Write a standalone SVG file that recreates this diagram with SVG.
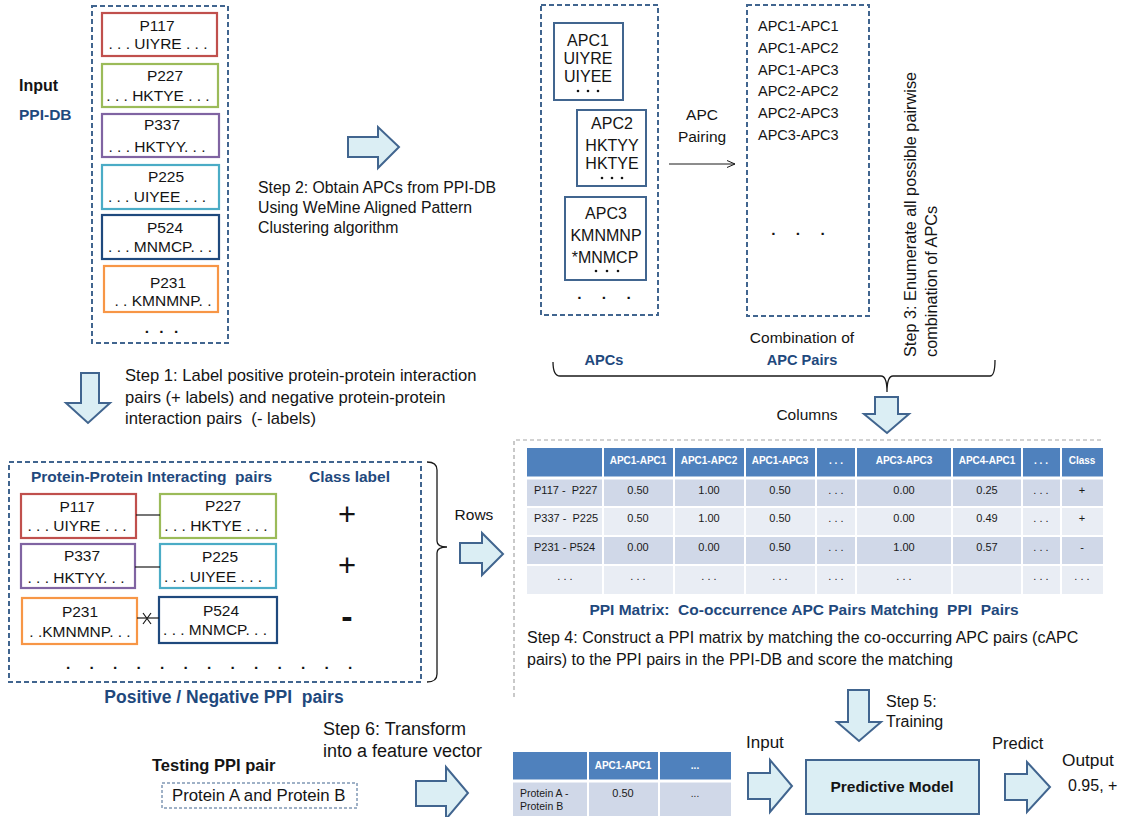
<svg xmlns="http://www.w3.org/2000/svg" width="1129" height="817" viewBox="0 0 1129 817">
  <style>
    text { font-family: "Liberation Sans", Arial, sans-serif; fill: #141414; white-space: pre; }
    .t { font-size: 15.5px; }
    .tb { font-size: 15.5px; font-weight: bold; }
    .blue { fill: #1f497d; font-weight: bold; }
    .mid { text-anchor: middle; }
    .dash { fill: none; stroke: #41658f; stroke-width: 2; stroke-dasharray: 5 3; }
    .gdash { fill: none; stroke: #a6a6a6; stroke-width: 1.2; stroke-dasharray: 4 3; }
    .apc { fill: #ffffff; stroke: #41658f; stroke-width: 2; }
    .blk { fill: #dbeef4; stroke: #41658f; stroke-width: 2; stroke-linejoin: miter; }
    .brace { fill: none; stroke: #1a1a1a; stroke-width: 1.3; }
    .pb { fill: #ffffff; stroke-width: 2.2; }
    .hd { font-size: 10px; font-weight: bold; fill: #ffffff; text-anchor: middle; }
    .cell { font-size: 11px; fill: #1a1a1a; text-anchor: middle; }
    .cl { font-size: 11px; fill: #1a1a1a; }
    .wl { stroke: #ffffff; stroke-width: 2; }
    .dot { fill: #141414; }
  </style>
  <defs>
    <marker id="open" markerWidth="10" markerHeight="10" refX="9" refY="5" orient="auto" markerUnits="userSpaceOnUse">
      <path d="M1,1.5 L9,5 L1,8.5" fill="none" stroke="#1a1a1a" stroke-width="1"/>
    </marker>
  </defs>
  <rect width="1129" height="817" fill="#ffffff"/>

  <!-- Input database -->
  <g id="input-label">
    <text class="tb" x="19" y="91" style="font-size:16px">Input</text>
    <text class="tb blue" x="19" y="120" style="font-size:15.5px">PPI-DB</text>
  </g>
  <g id="ppi-db">
    <rect class="dash" x="92" y="6" width="136" height="337"/>
    <rect class="pb" x="102" y="13" width="115" height="43" stroke="#c0504d"/>
    <text class="t mid" x="157" y="31">P117</text>
    <text class="t mid" x="158" y="49">. . . UIYRE . . .</text>
    <rect class="pb" x="102" y="64" width="116" height="43" stroke="#9bbb59"/>
    <text class="t mid" x="165" y="81">P227</text>
    <text class="t mid" x="158" y="101">. . . HKTYE . . .</text>
    <rect class="pb" x="102" y="114" width="117" height="43" stroke="#8064a2"/>
    <text class="t mid" x="162" y="130">P337</text>
    <text class="t mid" x="157" y="152">. . . HKTYY. . .</text>
    <rect class="pb" x="102" y="165" width="117" height="44" stroke="#4bacc6"/>
    <text class="t mid" x="166" y="182">P225</text>
    <text class="t mid" x="157" y="202">. . . UIYEE . . .</text>
    <rect class="pb" x="102" y="215" width="117" height="44" stroke="#1f497d"/>
    <text class="t mid" x="165" y="233">P524</text>
    <text class="t mid" x="160" y="252">. . . MNMCP. . .</text>
    <rect class="pb" x="104" y="266" width="114" height="46" stroke="#f79646"/>
    <text class="t mid" x="168" y="288">P231</text>
    <text class="t mid" x="163" y="306">. . KMNMNP. .</text>
    <text class="tb mid" x="163" y="333" letter-spacing="3">. . .</text>
  </g>

  <!-- Step 2 -->
  <g id="step2">
    <text class="t" x="258" y="193" style="font-size:15.8px">Step 2: Obtain APCs from PPI-DB</text>
    <text class="t" x="258" y="213" style="font-size:15.8px">Using WeMine Aligned Pattern</text>
    <text class="t" x="258" y="233" style="font-size:15.8px">Clustering algorithm</text>
  </g>

  <!-- Aligned pattern clusters -->
  <g id="apcs">
    <rect class="dash" x="541" y="5" width="117" height="310"/>
    <rect class="apc" x="554" y="23" width="69" height="77"/>
    <text class="t mid" x="588" y="46" style="font-size:16px">APC1</text>
    <text class="t mid" x="588" y="64" style="font-size:16px">UIYRE</text>
    <text class="t mid" x="588" y="82" style="font-size:16px">UIYEE</text>
    <circle class="dot" cx="578" cy="91" r="1.3"/><circle class="dot" cx="588" cy="91" r="1.3"/><circle class="dot" cx="598" cy="91" r="1.3"/>
    <rect class="apc" x="577" y="110" width="69" height="76"/>
    <text class="t mid" x="612" y="129" style="font-size:16px">APC2</text>
    <text class="t mid" x="612" y="151" style="font-size:16px">HKTYY</text>
    <text class="t mid" x="612" y="169" style="font-size:16px">HKTYE</text>
    <circle class="dot" cx="602" cy="178" r="1.3"/><circle class="dot" cx="612" cy="178" r="1.3"/><circle class="dot" cx="622" cy="178" r="1.3"/>
    <rect class="apc" x="565" y="197" width="81" height="83"/>
    <text class="t mid" x="606" y="219" style="font-size:16px">APC3</text>
    <text class="t mid" x="606" y="241" style="font-size:16px">KMNMNP</text>
    <text class="t mid" x="605" y="263" style="font-size:16px">*MNMCP</text>
    <circle class="dot" cx="596" cy="271" r="1.3"/><circle class="dot" cx="607" cy="271" r="1.3"/><circle class="dot" cx="618" cy="271" r="1.3"/>
    <text class="tb mid" x="608" y="299" letter-spacing="8">. . .</text>
    <text class="tb blue mid" x="604" y="365" style="font-size:14.6px">APCs</text>
  </g>

  <g id="apc-pairing">
    <text class="t mid" x="702" y="120">APC</text>
    <text class="t mid" x="702" y="142">Pairing</text>
  </g>

  <!-- Combination of APC pairs -->
  <g id="apc-pairs">
    <rect class="dash" x="747" y="5" width="122" height="311"/>
    <text class="t" x="758" y="31" style="font-size:14.5px">APC1-APC1</text>
    <text class="t" x="758" y="53" style="font-size:14.5px">APC1-APC2</text>
    <text class="t" x="758" y="75" style="font-size:14.5px">APC1-APC3</text>
    <text class="t" x="758" y="96" style="font-size:14.5px">APC2-APC2</text>
    <text class="t" x="758" y="118" style="font-size:14.5px">APC2-APC3</text>
    <text class="t" x="758" y="140" style="font-size:14.5px">APC3-APC3</text>
    <text class="tb mid" x="802" y="235" letter-spacing="8">. . .</text>
    <text class="t mid" x="802" y="343">Combination of</text>
    <text class="tb blue mid" x="802" y="365" style="font-size:14.6px">APC Pairs</text>
  </g>

  <g id="step3">
    <text class="t" style="font-size:16.3px" transform="translate(916,357) rotate(-90)">Step 3: Enumerate all possible pairwise</text>
    <text class="t" style="font-size:16.3px" transform="translate(937,357) rotate(-90)">combination of APCs</text>
  </g>

  <!-- Step 1 -->
  <g id="step1">
    <text class="t" x="125" y="381" style="font-size:16.6px">Step 1: Label positive protein-protein interaction</text>
    <text class="t" x="125" y="403" style="font-size:16.6px">pairs (+ labels) and negative protein-protein</text>
    <text class="t" x="125" y="424" style="font-size:16.6px">interaction pairs  (- labels)</text>
  </g>

  <!-- Positive / negative PPI pairs -->
  <g id="ppi-pairs">
    <rect class="dash" x="9" y="462" width="412" height="220"/>
    <text class="tb blue" x="31" y="482">Protein-Protein Interacting  pairs</text>
    <text class="tb blue" x="309" y="482">Class label</text>
    <rect class="pb" x="21" y="494" width="115" height="44" stroke="#c0504d"/>
    <text class="t mid" x="77" y="512">P117</text>
    <text class="t mid" x="77" y="531">. . . UIYRE . . .</text>
    <rect class="pb" x="160" y="494" width="116" height="44" stroke="#9bbb59"/>
    <text class="t mid" x="223" y="511">P227</text>
    <text class="t mid" x="216" y="531">. . . HKTYE . . .</text>
    <rect class="pb" x="21" y="544" width="114" height="44" stroke="#8064a2"/>
    <text class="t mid" x="82" y="561">P337</text>
    <text class="t mid" x="76" y="583">. . . HKTYY. . .</text>
    <rect class="pb" x="160" y="544" width="116" height="44" stroke="#4bacc6"/>
    <text class="t mid" x="220" y="562">P225</text>
    <text class="t mid" x="213" y="582">. . . UIYEE . . .</text>
    <rect class="pb" x="22" y="598" width="115" height="46" stroke="#f79646"/>
    <text class="t mid" x="80" y="617">P231</text>
    <text class="t mid" x="80" y="637">. .KMNMNP. . .</text>
    <rect class="pb" x="159" y="597" width="118" height="46" stroke="#1f497d"/>
    <text class="t mid" x="221" y="616">P524</text>
    <text class="t mid" x="215" y="635">. . . MNMCP. . .</text>
    <text class="t mid" x="347" y="525" style="font-size:31px">+</text>
    <text class="t mid" x="347" y="576" style="font-size:31px">+</text>
    <text class="tb mid" x="347" y="628" style="font-size:34px">-</text>
    <text class="tb" x="66" y="669" letter-spacing="19.2">.............</text>
    <text class="tb blue mid" x="224" y="703" style="font-size:17.5px">Positive / Negative PPI  pairs</text>
  </g>

  <g id="rows-label">
    <text class="t mid" x="474" y="520">Rows</text>
  </g>
  <g id="columns-label">
    <text class="t mid" x="807" y="420">Columns</text>
  </g>

  <!-- PPI matrix -->
  <g id="ppi-matrix">
    <path class="gdash" d="M514,697 V440 H1103"/>
    <rect x="527" y="448" width="576" height="29" fill="#4f81bd"/>
    <rect x="527" y="477" width="576" height="30" fill="#d0d8e8"/>
    <rect x="527" y="507" width="576" height="29" fill="#e9edf4"/>
    <rect x="527" y="536" width="576" height="29" fill="#d0d8e8"/>
    <rect x="527" y="565" width="576" height="29" fill="#e9edf4"/>
    <g class="wl">
      <line x1="527" y1="478" x2="1103" y2="478" stroke-width="3"/>
      <line x1="527" y1="507" x2="1103" y2="507"/>
      <line x1="527" y1="536" x2="1103" y2="536"/>
      <line x1="527" y1="565" x2="1103" y2="565"/>
      <line x1="603" y1="448" x2="603" y2="594"/>
      <line x1="674" y1="448" x2="674" y2="594"/>
      <line x1="745" y1="448" x2="745" y2="594"/>
      <line x1="816" y1="448" x2="816" y2="594"/>
      <line x1="856" y1="448" x2="856" y2="594"/>
      <line x1="952" y1="448" x2="952" y2="594"/>
      <line x1="1022" y1="448" x2="1022" y2="594"/>
      <line x1="1061" y1="448" x2="1061" y2="594"/>
    </g>
    <text class="hd" x="638" y="464">APC1-APC1</text>
    <text class="hd" x="709" y="464">APC1-APC2</text>
    <text class="hd" x="780" y="464">APC1-APC3</text>
    <text class="hd" x="836" y="464">. . .</text>
    <text class="hd" x="904" y="464">APC3-APC3</text>
    <text class="hd" x="987" y="464">APC4-APC1</text>
    <text class="hd" x="1041" y="464">. . .</text>
    <text class="hd" x="1082" y="464">Class</text>

    <text class="cl" x="534" y="494">P117 -  P227</text>
    <text class="cell" x="638" y="494">0.50</text>
    <text class="cell" x="709" y="494">1.00</text>
    <text class="cell" x="780" y="494">0.50</text>
    <text class="cell" x="836" y="494">. . .</text>
    <text class="cell" x="904" y="494">0.00</text>
    <text class="cell" x="987" y="494">0.25</text>
    <text class="cell" x="1041" y="494">. . .</text>
    <text class="cell" x="1082" y="494">+</text>

    <text class="cl" x="534" y="522">P337 -  P225</text>
    <text class="cell" x="638" y="522">0.50</text>
    <text class="cell" x="709" y="522">1.00</text>
    <text class="cell" x="780" y="522">0.50</text>
    <text class="cell" x="836" y="522">. . .</text>
    <text class="cell" x="904" y="522">0.00</text>
    <text class="cell" x="987" y="522">0.49</text>
    <text class="cell" x="1041" y="522">. . .</text>
    <text class="cell" x="1082" y="522">+</text>

    <text class="cl" x="534" y="551">P231 - P524</text>
    <text class="cell" x="638" y="551">0.00</text>
    <text class="cell" x="709" y="551">0.00</text>
    <text class="cell" x="780" y="551">0.50</text>
    <text class="cell" x="836" y="551">. . .</text>
    <text class="cell" x="904" y="551">1.00</text>
    <text class="cell" x="987" y="551">0.57</text>
    <text class="cell" x="1041" y="551">. . .</text>
    <text class="cell" x="1082" y="551">-</text>

    <text class="cell" x="565" y="580">. . .</text>
    <text class="cell" x="638" y="580">. . .</text>
    <text class="cell" x="709" y="580">. . .</text>
    <text class="cell" x="780" y="580">. . .</text>
    <text class="cell" x="836" y="580">. . .</text>
    <text class="cell" x="904" y="580">. . .</text>
    <text class="cell" x="1041" y="580">. . .</text>
    <text class="cell" x="1082" y="580">. . .</text>

    <text class="tb blue mid" x="804" y="615">PPI Matrix:  Co-occurrence APC Pairs Matching  PPI  Pairs</text>
    <text class="t" x="527" y="643" style="font-size:16px">Step 4: Construct a PPI matrix by matching the co-occurring APC pairs (cAPC</text>
    <text class="t" x="527" y="665" style="font-size:16px">pairs) to the PPI pairs in the PPI-DB and score the matching</text>
  </g>

  <!-- Testing stage -->
  <g id="testing-pair">
    <text class="tb" x="152" y="771" style="font-size:16.5px">Testing PPI pair</text>
    <rect x="162" y="783" width="195" height="25" fill="none" stroke="#41658f" stroke-width="1" stroke-dasharray="3 2"/>
    <text class="t" x="172" y="801" style="font-size:16.8px">Protein A and Protein B</text>
  </g>
  <g id="step6">
    <text class="t" x="323" y="735" style="font-size:18px">Step 6: Transform</text>
    <text class="t" x="323" y="757" style="font-size:18px">into a feature vector</text>
  </g>
  <g id="feature-vector">
    <rect x="513" y="752" width="218" height="28" fill="#4f81bd"/>
    <rect x="513" y="780" width="218" height="36" fill="#d0d8e8"/>
    <g class="wl">
      <line x1="513" y1="781" x2="731" y2="781" stroke-width="3"/>
      <line x1="588" y1="752" x2="588" y2="816"/>
      <line x1="659" y1="752" x2="659" y2="816"/>
    </g>
    <text class="hd" x="623" y="769">APC1-APC1</text>
    <text class="hd" x="695" y="769">...</text>
    <text class="cl" x="520" y="797" style="font-size:10.5px">Protein A -</text>
    <text class="cl" x="520" y="810" style="font-size:10.5px">Protein B</text>
    <text class="cell" x="623" y="797">0.50</text>
    <text class="cell" x="695" y="797" style="font-size:10px">...</text>
  </g>
  <g id="input-text">
    <text class="t" x="746" y="748" style="font-size:17px">Input</text>
  </g>
  <g id="step5">
    <text class="t" x="886" y="707" style="font-size:16px">Step 5:</text>
    <text class="t" x="886" y="727" style="font-size:16px">Training</text>
  </g>
  <g id="predictive-model">
    <rect x="806" y="760" width="173" height="54" fill="#dbeef4" stroke="#41658f" stroke-width="2"/>
    <text class="tb mid" x="892" y="792" style="font-size:15.5px">Predictive Model</text>
  </g>
  <g id="predict-output">
    <text class="t" x="992" y="749" style="font-size:16.5px">Predict</text>
    <text class="t" x="1062" y="766" style="font-size:17.3px">Output</text>
    <text class="t" x="1068" y="791" style="font-size:16px">0.95, +</text>
  </g>

  <!-- Connectors: block arrows, pairing arrow and braces -->
  <g id="connectors">
    <polygon class="blk" points="348,137 378,137 378,127 399,147 378,168 378,157 348,157"/>
    <line x1="669" y1="164" x2="735" y2="164" stroke="#1a1a1a" stroke-width="1" marker-end="url(#open)"/>
    <path class="brace" d="M553,362 Q553,376 560,376 H881 Q887,376 887,392 Q887,376 893,376 H990 Q995,376 995,360"/>
    <polygon class="blk" points="875,397 898,397 898,414 909,414 887,433 864,414 875,414"/>
    <polygon class="blk" points="81,373 99,373 99,403 110,403 88,423 66,403 81,403"/>
    <path class="brace" d="M427,462 Q437,462 437,470 V541 Q437,547 447,547 Q437,547 437,553 V674 Q437,682 427,682"/>
    <polygon class="blk" points="460,543 482,543 482,533 503,554 482,575 482,563 460,563"/>
    <polygon class="blk" points="848,690 869,690 869,722 881,722 859,741 837,722 848,722"/>
    <polygon class="blk" points="416,781 446,781 446,767 468,793 446,819 446,806 416,806"/>
    <polygon class="blk" points="748,773 770,773 770,760 792,786 770,812 770,799 748,799"/>
    <polygon class="blk" points="1005,774 1027,774 1027,762 1050,787 1027,812 1027,800 1005,800"/>
    <line x1="136" y1="515" x2="160" y2="515" stroke="#1a1a1a" stroke-width="1.2"/>
    <line x1="135" y1="567" x2="160" y2="567" stroke="#1a1a1a" stroke-width="1.2"/>
    <line x1="137" y1="618" x2="159" y2="618" stroke="#1a1a1a" stroke-width="1.2"/>
    <path d="M143,613 L151,624 M151,613 L143,624" stroke="#1a1a1a" stroke-width="1.2" fill="none"/>
  </g>
</svg>
